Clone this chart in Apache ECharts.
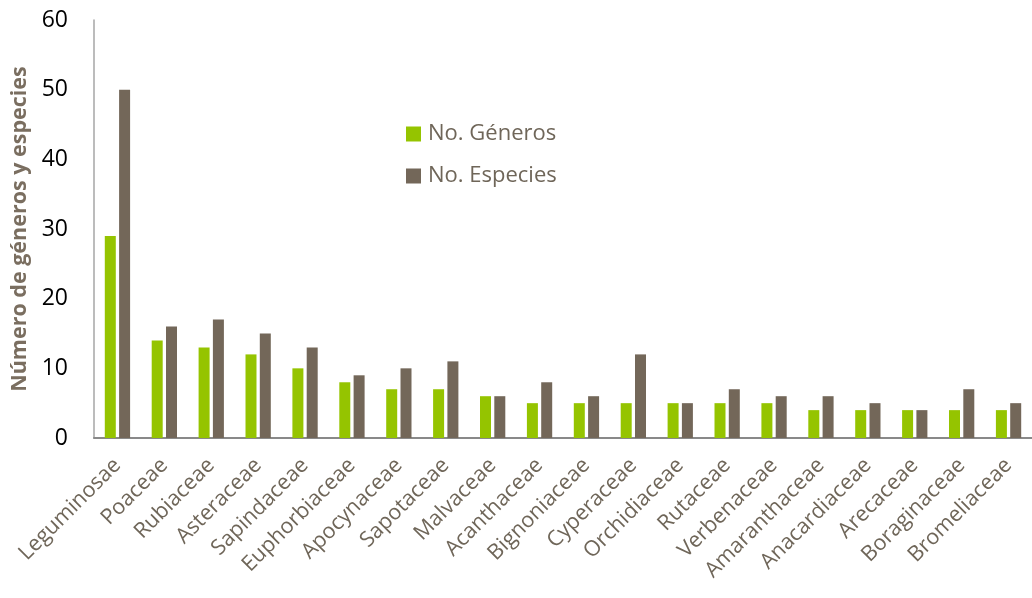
<!DOCTYPE html>
<html>
<head>
<meta charset="utf-8">
<script src="https://cdn.jsdelivr.net/npm/echarts@6/dist/echarts.min.js"></script>
<style>
  html, body { margin: 0; padding: 0; background: #ffffff; }
  #chart { width: 1032px; height: 598px; }
</style>
</head>
<body>
<div id="chart"></div>
<script>
// Families ordered by number of species/genera
const families = ['Leguminosae', 'Poaceae', 'Rubiaceae', 'Asteraceae', 'Sapindaceae',
  'Euphorbiaceae', 'Apocynaceae', 'Sapotaceae', 'Malvaceae', 'Acanthaceae',
  'Bignoniaceae', 'Cyperaceae', 'Orchidiaceae', 'Rutaceae', 'Verbenaceae',
  'Amaranthaceae', 'Anacardiaceae', 'Arecaceae', 'Boraginaceae', 'Bromeliaceae'];
const generos  = [29, 14, 13, 12, 10, 8, 7, 7, 6, 5, 5, 5, 5, 5, 5, 4, 4, 4, 4, 4];
const especies = [50, 16, 17, 15, 13, 9, 10, 11, 6, 8, 6, 12, 5, 7, 6, 6, 5, 4, 7, 5];
const yTicks = [0, 10, 20, 30, 40, 50, 60];

const textColor = '#6f6659';
const font = '"Open Sans", "Noto Sans", sans-serif';

const chart = echarts.init(document.getElementById('chart'), null, { renderer: 'canvas' });
chart.setOption({
  animation: false,
  textStyle: { fontFamily: font },
  grid: { left: 94, right: 0, top: 20, bottom: 160, containLabel: false },
  legend: {
    orient: 'vertical',
    left: 401,
    top: 118,
    itemWidth: 15,
    itemHeight: 15,
    itemGap: 20,
    icon: 'rect',
    textStyle: { color: textColor, fontSize: 22, fontFamily: font, padding: [0, 0, 0, 2] },
    data: ['No. Géneros', 'No. Especies']
  },
  xAxis: {
    type: 'category',
    data: families,
    axisLine: { lineStyle: { color: '#898989', width: 2 } },
    axisTick: { show: false },
    axisLabel: {
      interval: 0,
      rotate: 45,
      color: textColor,
      fontSize: 21.5,
      fontFamily: font,
      margin: 24,
      padding: [16, 0, 0, 0]
    }
  },
  yAxis: {
    type: 'value',
    min: yTicks[0],
    max: yTicks[yTicks.length - 1],
    interval: 10,
    name: 'Número de géneros y especies',
    nameLocation: 'middle',
    nameGap: 62,
    nameTextStyle: { color: '#7a6e60', fontSize: 21.5, fontWeight: 'bold', fontFamily: font },
    axisLine: { show: true, lineStyle: { color: '#a6a6a6', width: 1.5 } },
    axisTick: { show: false },
    splitLine: { show: false },
    axisLabel: { color: '#000000', fontSize: 23, fontFamily: font, margin: 26 }
  },
  series: [
    {
      name: 'No. Géneros',
      type: 'bar',
      data: generos,
      barWidth: 11,
      barGap: '30%',
      itemStyle: { color: '#95c400' }
    },
    {
      name: 'No. Especies',
      type: 'bar',
      data: especies,
      barWidth: 11,
      itemStyle: { color: '#736759' }
    }
  ]
});
</script>
</body>
</html>
